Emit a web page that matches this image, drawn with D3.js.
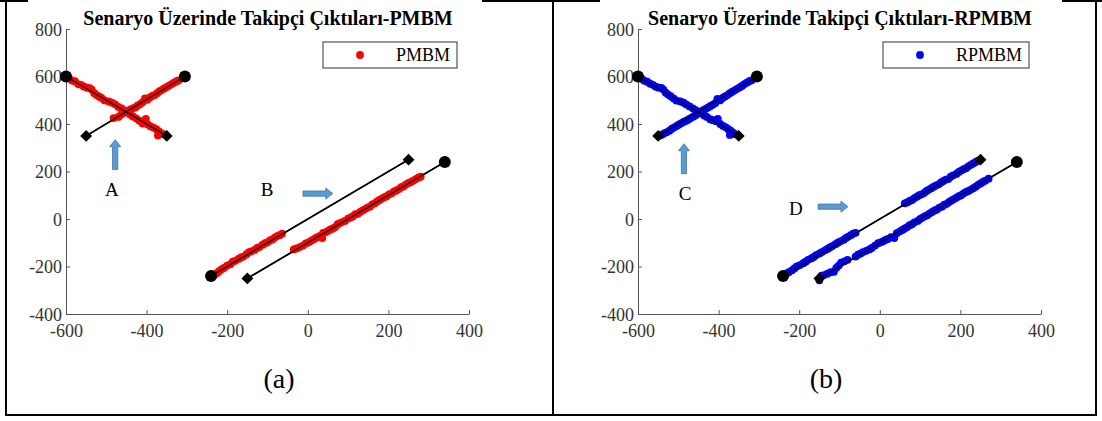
<!DOCTYPE html>
<html>
<head>
<meta charset="utf-8">
<script src="https://cdn.jsdelivr.net/npm/d3@7"></script>
<style>
  body { margin: 0; background: white; }
  text { font-family: "Liberation Serif", "Times New Roman", serif; }
</style>
</head>
<body>
<svg id="main-svg"></svg>
<script>
const svg = d3.select("#main-svg");

CANVAS_WIDTH = 1102
CANVAS_HEIGHT = 421
PLOT_WIDTH = 403
PLOT_TOP = 29
PLOT_BOTTOM = 314
AXIS_COLOR = "#555"
DOT_R = 3.9

// ticks
const xTicks = [-600, -400, -200, 0, 200, 400];
const yTicks = [-400, -200, 0, 200, 400, 600, 800];

// ground truth tracks (line from first to second point)
const truthLines = [
  [[-600, 600], [-350, 350]],
  [[-550, 350], [-305, 600]],
  [[-240, -240], [250, 250]],
  [[-150, -250], [340, 240]]
];
const truthCircles = [[-600, 600], [-305, 600], [-240, -240], [340, 240]];
const truthDiamonds = [[-350, 350], [-550, 350], [250, 250], [-150, -250]];

// PMBM estimates
const pmbmPoints = [
  [-592,592],[-585,583],[-578,580],[-570,568],[-563,565],[-556,558],[-548,553],[-541,551],[-536,545],[-530,530],
  [-524,522],[-518,516],[-512,510],[-505,500],[-494,495],[-486,490],[-478,483],[-470,472],[-462,466],[-455,457],
  [-448,450],[-441,440],[-434,432],[-426,424],[-418,414],[-410,402],[-402,422],[-397,398],[-390,390],[-383,385],
  [-376,378],[-370,370],[-364,362],[-372,352],[-360,358],
  [-482,425],[-470,430],[-463,440],[-456,447],[-450,452],[-445,455],[-440,462],[-434,466],[-428,470],[-422,478],
  [-416,484],[-410,492],[-404,508],[-398,502],[-392,512],[-386,518],[-380,522],[-374,530],[-368,538],[-362,544],
  [-356,550],[-350,556],[-344,562],[-338,568],[-332,574],[-326,580],[-320,584],
  [-232,-236],[-226,-228],[-220,-220],[-214,-212],[-208,-206],[-200,-196],[-192,-190],[-186,-180],[-180,-176],
  [-172,-168],[-166,-162],[-160,-158],[-152,-148],[-146,-140],[-140,-136],[-132,-130],[-126,-122],[-120,-118],
  [-112,-108],[-106,-102],[-100,-98],[-94,-90],[-88,-86],[-82,-78],[-76,-72],[-70,-68],[-64,-62],
  [-35,-128],[-28,-124],[-20,-118],[-12,-112],[-5,-103],[2,-98],[8,-92],[14,-86],[20,-80],[26,-74],[32,-70],
  [36,-80],[38,-58],[44,-56],[50,-50],[56,-44],[62,-40],[68,-34],[74,-22],[78,-18],[84,-14],[92,-8],[100,2],
  [106,6],[112,12],[118,20],[124,22],[130,30],[136,36],[142,42],[148,48],[154,52],[160,62],[166,66],[172,74],
  [178,80],[184,86],[190,92],[196,96],[202,104],[208,108],[214,116],[220,120],[226,126],[232,134],[238,138],
  [244,146],[250,152],[256,156],[262,162],[268,168],[274,174],[280,178]
];

// RPMBM estimates
const rpmbmPoints = [
  [-590,590],[-584,582],[-577,578],[-570,570],[-563,565],[-556,557],[-549,553],[-542,552],[-537,545],[-531,532],
  [-525,524],[-519,517],[-512,508],[-505,499],[-495,495],[-487,490],[-480,482],[-472,474],[-464,466],[-457,458],
  [-450,452],[-443,446],[-436,436],[-429,430],[-421,420],[-414,416],[-407,412],[-402,422],[-396,400],[-389,392],
  [-382,386],[-376,378],[-370,372],[-364,364],[-372,354],[-360,358],
  [-545,352],[-540,356],[-534,362],[-528,366],[-522,372],[-516,380],[-510,386],[-504,392],[-498,398],[-492,404],
  [-486,410],[-480,414],[-474,420],[-468,426],[-462,432],[-456,438],[-450,446],[-444,452],[-438,458],[-432,464],
  [-426,470],[-420,476],[-414,482],[-408,488],[-403,506],[-396,500],[-390,510],[-384,516],[-378,522],[-372,530],
  [-366,536],[-360,542],[-354,548],[-348,554],[-342,560],[-336,568],[-330,574],[-324,580],[-318,584],
  [-232,-230],[-226,-224],[-218,-216],[-212,-208],[-206,-200],[-198,-194],[-190,-186],[-184,-180],[-178,-172],
  [-170,-166],[-164,-160],[-158,-152],[-150,-146],[-144,-140],[-136,-132],[-130,-126],[-124,-120],[-118,-114],
  [-110,-106],[-104,-100],[-98,-94],[-90,-88],[-84,-80],[-78,-74],[-72,-68],[-66,-62],[-60,-58],
  [62,66],[68,70],[74,76],[80,80],[86,88],[92,94],[98,100],[104,104],[110,110],[116,118],[122,124],[128,130],
  [134,136],[140,142],[146,146],[152,154],[158,160],[164,166],[170,168],[176,178],[182,184],[190,190],[196,198],
  [202,204],[208,210],[214,214],[220,222],[226,228],[232,234],[238,240],[244,246],
  [-150,-258],[-144,-238],[-138,-236],[-130,-230],[-122,-224],[-114,-222],[-108,-206],[-102,-196],[-96,-184],
  [-88,-178],[-80,-172],[-60,-158],[-54,-150],[-48,-146],[-42,-140],[-34,-134],[-26,-128],[-20,-122],[-12,-112],
  [-4,-102],[2,-98],[8,-94],[14,-88],[20,-84],[28,-76],[36,-80],[42,-60],[50,-52],[56,-46],[62,-40],[68,-34],
  [74,-26],[80,-22],[86,-14],[94,-8],[100,0],[106,6],[112,12],[118,16],[124,24],[130,30],[136,36],[142,40],
  [148,48],[154,52],[160,60],[166,64],[172,72],[178,78],[184,84],[190,90],[196,96],[202,100],[208,108],[214,114],
  [220,118],[226,124],[232,130],[238,136],[244,144],[250,150],[256,156],[262,162],[270,170]
];

// annotations: arrow [x1,y1,x2,y2] and label [x,y,text]
const arrowsA = [[-478, 208, -478, 334], [-12, 107, 62, 107]];
const labelsA = [[-486, 98, "A"], [-101, 98, "B"]];
const arrowsB = [[-486, 191, -486, 317], [-153, 52, -79, 52]];
const labelsB = [[-483, 81, "C"], [-208, 18, "D"]];

const panels = [
  { x0: 66, title: "Senaryo Üzerinde Takipçi Çıktıları-PMBM", titleX: 268, name: "PMBM", color: "#ff0000",
    points: pmbmPoints, arrows: arrowsA, labels: labelsA, legendX: 323, legendW: 134, caption: "(a)", captionX: 279 },
  { x0: 638, title: "Senaryo Üzerinde Takipçi Çıktıları-RPMBM", titleX: 840, name: "RPMBM", color: "#0000ff",
    points: rpmbmPoints, arrows: arrowsB, labels: labelsB, legendX: 883, legendW: 146, caption: "(b)", captionX: 826 }
];

svg.attr("width", CANVAS_WIDTH).attr("height", CANVAS_HEIGHT);
svg.append("rect").attr("width", "100%").attr("height", "100%").attr("fill", "white");

// table borders
const borderG = svg.append("g").attr("stroke", "black").attr("stroke-width", 2);
borderG.append("line").attr("x1", 6).attr("x2", 6).attr("y1", 0).attr("y2", 416);
borderG.append("line").attr("x1", 553).attr("x2", 553).attr("y1", 0).attr("y2", 416);
borderG.append("line").attr("x1", 1096).attr("x2", 1096).attr("y1", 0).attr("y2", 416);
borderG.append("line").attr("x1", 5).attr("x2", 1097).attr("y1", 415).attr("y2", 415);
[[0, 28], [482, 600], [1062, 1102]].forEach(s => {
  borderG.append("line").attr("x1", s[0]).attr("x2", s[1]).attr("y1", 1).attr("y2", 1);
});

const arrowPath = (x1, y1, x2, y2) => {
  // block arrow pointing from (x1,y1) to (x2,y2)
  const len = Math.hypot(x2 - x1, y2 - y1);
  const head = 7, sw = 2.6, hw = 5.5;
  const pts = [[0, -sw], [len - head, -sw], [len - head, -hw], [len, 0], [len - head, hw], [len - head, sw], [0, sw]];
  const a = Math.atan2(y2 - y1, x2 - x1);
  return "M" + pts.map(p => [x1 + p[0] * Math.cos(a) - p[1] * Math.sin(a), y1 + p[0] * Math.sin(a) + p[1] * Math.cos(a)].join(",")).join("L") + "Z";
};

panels.forEach(p => {
  const x = d3.scaleLinear().domain([-600, 400]).range([p.x0, p.x0 + PLOT_WIDTH]);
  const y = d3.scaleLinear().domain([-400, 800]).range([PLOT_BOTTOM, PLOT_TOP]);
  const g = svg.append("g");

  // axes (MATLAB style, ticks inside)
  const xAxis = g.append("g").attr("transform", `translate(0 ${PLOT_BOTTOM})`)
    .call(d3.axisBottom(x).tickValues(xTicks).tickFormat(d => String(d)).tickSizeInner(-4).tickSizeOuter(0).tickPadding(9));
  const yAxis = g.append("g").attr("transform", `translate(${p.x0} 0)`)
    .call(d3.axisLeft(y).tickValues(yTicks).tickFormat(d => String(d)).tickSizeInner(-4).tickSizeOuter(0).tickPadding(4));
  [xAxis, yAxis].forEach(a => {
    a.attr("font-family", "Liberation Serif");
    a.select(".domain").attr("stroke", AXIS_COLOR);
    a.selectAll(".tick line").attr("stroke", AXIS_COLOR);
    a.selectAll(".tick text").attr("fill", "#333")
      .style("font-family", "'Liberation Serif', serif").style("font-size", "18px");
  });
  xAxis.selectAll(".tick text").attr("dy", "0.75em");
  yAxis.selectAll(".tick text").attr("dy", "0.36em");

  // title
  g.append("text").attr("x", p.titleX).attr("y", 25).attr("text-anchor", "middle")
    .style("font-size", "20px").style("font-weight", "bold").text(p.title);

  // truth lines
  g.selectAll(".truth").data(truthLines).enter().append("line")
    .attr("x1", d => x(d[0][0])).attr("y1", d => y(d[0][1]))
    .attr("x2", d => x(d[1][0])).attr("y2", d => y(d[1][1]))
    .attr("stroke", "black").attr("stroke-width", 1.6);

  // estimates
  g.selectAll(".est").data(p.points).enter().append("circle")
    .attr("cx", d => x(d[0])).attr("cy", d => y(d[1])).attr("r", DOT_R).attr("fill", p.color);

  // redraw lines over points
  g.selectAll(".truth2").data(truthLines).enter().append("line")
    .attr("x1", d => x(d[0][0])).attr("y1", d => y(d[0][1]))
    .attr("x2", d => x(d[1][0])).attr("y2", d => y(d[1][1]))
    .attr("stroke", "black").attr("stroke-width", 1.4);

  g.selectAll(".start").data(truthCircles).enter().append("circle")
    .attr("cx", d => x(d[0])).attr("cy", d => y(d[1])).attr("r", 6).attr("fill", "black");
  g.selectAll(".end").data(truthDiamonds).enter().append("path")
    .attr("d", d3.symbol().type(d3.symbolDiamond2).size(90))
    .attr("transform", d => `translate(${x(d[0])} ${y(d[1])})`).attr("fill", "black");

  // annotations
  g.selectAll(".arrow").data(p.arrows).enter().append("path")
    .attr("d", d => arrowPath(x(d[0]), y(d[1]), x(d[2]), y(d[3])))
    .attr("fill", "#5b9bd5").attr("stroke", "#41719c").attr("stroke-width", 0.8);
  g.selectAll(".lab").data(p.labels).enter().append("text")
    .attr("x", d => x(d[0])).attr("y", d => y(d[1])).attr("text-anchor", "middle")
    .style("font-size", "19px").text(d => d[2]);

  // legend
  g.append("rect").attr("x", p.legendX).attr("y", 42).attr("width", p.legendW).attr("height", 26)
    .attr("fill", "white").attr("stroke", "#333").attr("stroke-width", 1);
  g.append("circle").attr("cx", p.legendX + 37).attr("cy", 55).attr("r", DOT_R).attr("fill", p.color);
  g.append("text").attr("x", p.legendX + p.legendW - 7).attr("y", 61).attr("text-anchor", "end")
    .style("font-size", "18px").text(p.name);

  // caption
  g.append("text").attr("x", p.captionX).attr("y", 388).attr("text-anchor", "middle")
    .style("font-size", "28px").text(p.caption);
});
</script>
</body>
</html>
